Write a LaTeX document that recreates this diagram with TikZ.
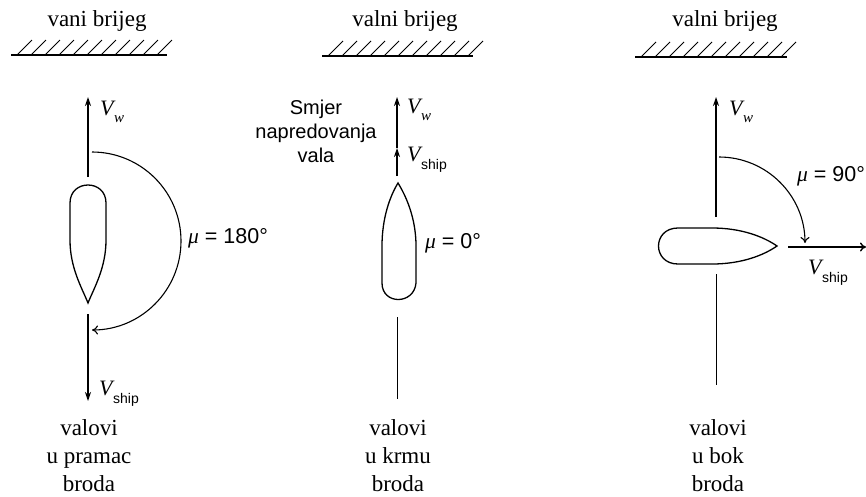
\documentclass[tikz,border=0pt]{standalone}
\usepackage{fontspec}
\setmainfont{Liberation Serif}
\setsansfont{Liberation Sans}
\usetikzlibrary{arrows.meta}
\newcommand{\velw}{{\fontsize{22}{24}\selectfont\rmfamily\itshape V\kern0.5pt\raisebox{-0.35em}{\fontsize{15}{15}\selectfont w}}}
\newcommand{\vels}{{\fontsize{22}{24}\selectfont\rmfamily\itshape V}\kern0.5pt\raisebox{-0.35em}{\fontsize{14}{14}\selectfont\sffamily ship}}
\newcommand{\mug}{{\rmfamily\itshape μ}}
\tikzset{
  ln/.style={line width=1.1pt},
  vec/.style={line width=1.3pt,-{Stealth[length=9pt,width=6pt]}},
  arcarr/.style={line width=1.1pt,-{To[length=6pt,width=9pt]}},
  hull/.style={line width=1.3pt},
  ttl/.style={font=\fontsize{23}{26}\selectfont\rmfamily},
  lbl/.style={font=\fontsize{21.5}{24}\selectfont\sffamily,anchor=west,inner sep=0pt},
  btm/.style={font=\fontsize{23}{28}\selectfont\rmfamily,align=center},
}
\newcommand{\hatchwall}[3]{% x0, x1, y
  \draw[ln] (#1,#3) -- (#2,#3);
  \foreach \i in {0,...,10} {\draw[line width=0.9pt] (#1+6+14*\i,#3) -- ++(15,-15);}
}
\begin{document}
\begin{tikzpicture}[x=1pt,y=-1pt]
\useasboundingbox (0,0) rectangle (866,496);
% ---------- panel 1 ----------
\node[ttl] (t1) at (97,21) {vani brijeg};
\hatchwall{11}{167}{55}
\coordinate (a1b) at (88,177);
\coordinate (a1t) at (88,97);
\draw[vec] (a1b) -- (a1t);
\node[lbl] (vw1) at (100,112) {\velw};
\draw[hull] (88,303) .. controls (82,288) and (70,268) .. (70,240) -- (70,203)
   .. controls (70,179) and (106,179) .. (106,203) -- (106,240)
   .. controls (106,268) and (94,288) .. (88,303) -- cycle;
\coordinate (s1t) at (88,314);
\coordinate (s1b) at (88,401);
\draw[vec] (s1t) -- (s1b);
\node[lbl] (vs1) at (99,394) {\vels};
\coordinate (arc1s) at (92,152);
\draw[arcarr] (arc1s) arc[start angle=-90,end angle=90,radius=89] coordinate (arc1e);
\node[lbl] (mu1) at (188,238) {\mug\ = 180°};
\node[btm] (b1) at (89,456) {valovi\\u pramac\\broda};
% ---------- panel 2 ----------
\node[ttl] (t2) at (405,21) {valni brijeg};
\hatchwall{322}{473}{56}
\coordinate (a2b) at (397,176);
\coordinate (a2m) at (397,148);
\coordinate (a2t) at (397,97);
\draw[vec] (a2b) -- (a2m);
\draw[vec] (a2m) -- (a2t);
\node[lbl] (vw2) at (407,110) {\velw};
\node[lbl] (vs2) at (407,160) {\vels};
\node[font=\fontsize{20}{24}\selectfont\sffamily,align=center] (smj) at (316,131) {Smjer\\napredovanja\\vala};
\draw[hull] (398,183) .. controls (390,196) and (382,218) .. (382,246) -- (382,283)
   .. controls (382,305) and (414,305) .. (416,283) -- (416,246)
   .. controls (416,218) and (406,196) .. (398,183) -- cycle;
\node[lbl] (mu2) at (425,243) {\mug\ = 0°};
\coordinate (l2t) at (397,317);
\coordinate (l2b) at (397,399);
\draw[line width=1pt] (l2t) -- (l2b);
\node[btm] (b2) at (398,456) {valovi\\u krmu\\broda};
% ---------- panel 3 ----------
\node[ttl] (t3) at (725,21) {valni brijeg};
\hatchwall{635}{787}{57}
\coordinate (a3b) at (716,217);
\coordinate (a3t) at (716,97);
\draw[vec] (a3b) -- (a3t);
\node[lbl] (vw3) at (729,112) {\velw};
\draw[hull] (777,246) .. controls (764,237) and (742,228) .. (712,228) -- (678,228)
   .. controls (652,228) and (652,264) .. (678,264) -- (712,264)
   .. controls (742,264) and (764,255) .. (777,246) -- cycle;
\coordinate (h3l) at (788,247);
\coordinate (h3r) at (866,247);
\draw[line width=1.4pt,-{To[length=6pt,width=9pt]}] (h3l) -- (h3r);
\node[lbl] (vs3) at (808,273) {\vels};
\coordinate (arc3s) at (719,157);
\draw[arcarr] (arc3s) arc[start angle=-90,end angle=0,radius=86] coordinate (arc3e);
\node[lbl] (mu3) at (797,176) {\mug\ = 90°};
\coordinate (l3t) at (716,274);
\coordinate (l3b) at (716,385);
\draw[line width=1pt] (l3t) -- (l3b);
\node[btm] (b3) at (718,456) {valovi\\u bok\\broda};
\end{tikzpicture}
\end{document}
